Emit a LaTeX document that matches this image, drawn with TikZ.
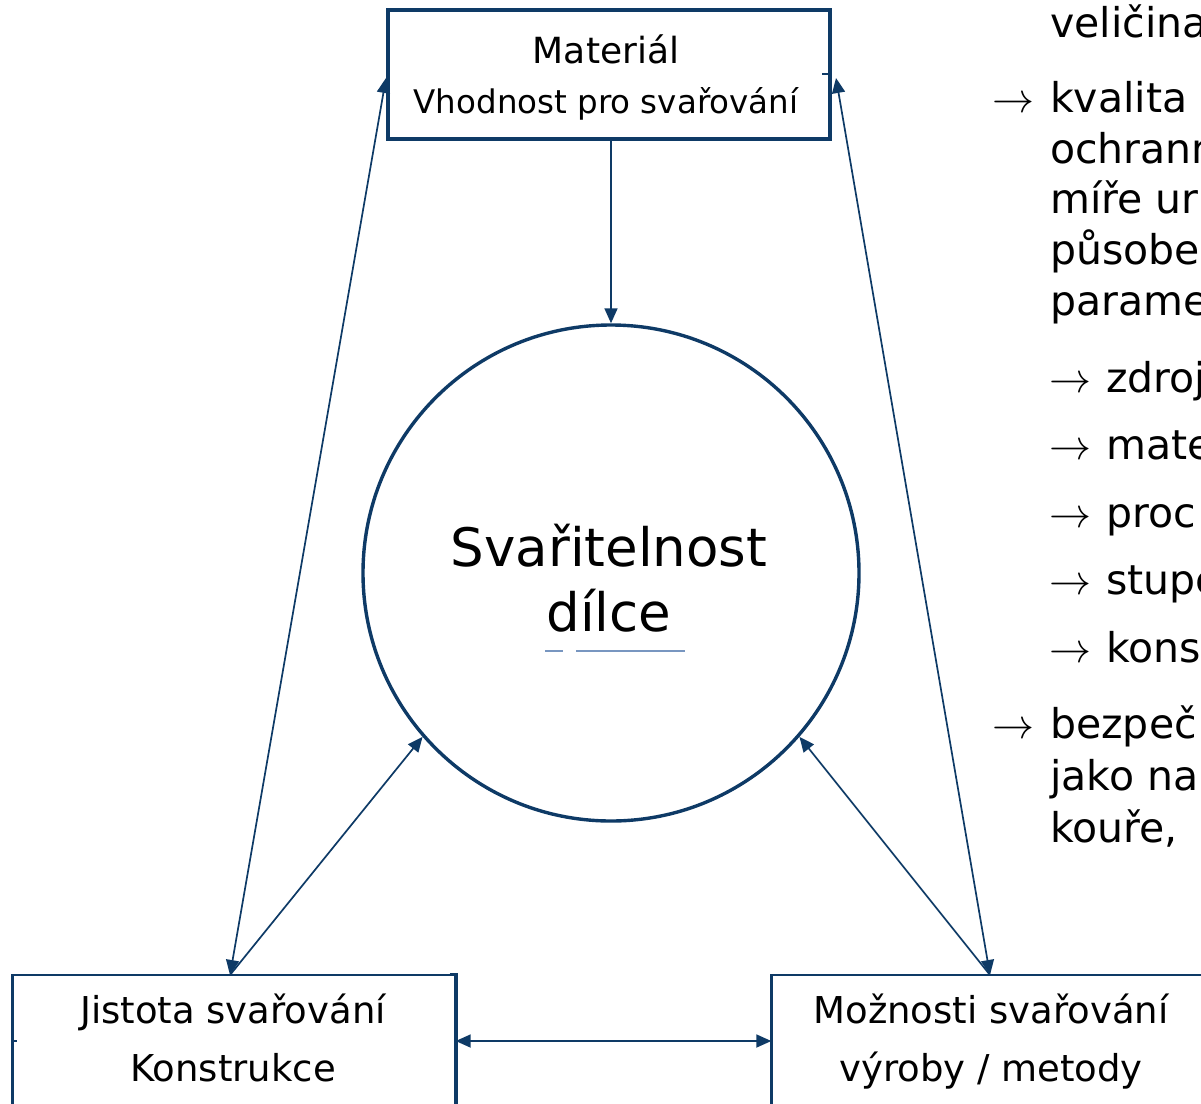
\documentclass[tikz,border=0pt]{standalone}
\usepackage{fontspec}
\setmainfont{DejaVu Sans}
\usepackage{graphicx}
\usetikzlibrary{arrows.meta,calc}
\definecolor{navy}{RGB}{14,58,102}
\definecolor{faintblue}{RGB}{120,150,192}
\newcommand{\arr}{\scalebox{4.2}{\fontsize{10}{12}\selectfont$\rightarrow$}}
\begin{document}
\begin{tikzpicture}[x=1pt,y=-1pt,
  tip/.tip={Triangle[length=15pt,width=13pt]},
  frame/.style={draw=navy,line width=3.4pt,inner sep=0pt},
  thinframe/.style={draw=navy,line width=1.4pt,inner sep=0pt},
  side/.style={draw=navy,line width=3.6pt},
  link/.style={draw=navy,line width=1.7pt},
  lbl/.style={inner sep=0pt,anchor=base,font=\fontsize{37}{44}\selectfont},
  big/.style={inner sep=0pt,anchor=base,font=\fontsize{53}{62}\selectfont},
  bullet/.style={inner sep=0pt,anchor=base west,font=\fontsize{41}{50}\selectfont}]
\useasboundingbox (0,0) rectangle (1201,1103);

% top box: material
\node[frame,minimum width=442pt,minimum height=129pt] (mat) at (609,74.5) {};
\node[lbl,font=\fontsize{36}{43}\selectfont] (matA) at (606,63) {Materiál};
\node[lbl,font=\fontsize{32.5}{40}\selectfont] (matB) at (606,113) {Vhodnost pro svařování};
\draw[navy,line width=1.2pt] (822,74) -- (mat.east |- 0,74);

% central circle
\node[circle,draw=navy,line width=3.4pt,minimum size=496pt,inner sep=0pt] (circ) at (611,573) {};
\node[big] (cA) at (609,566) {Svařitelnost};
\node[big] (cB) at (609,631) {dílce};
\draw[faintblue,line width=2pt] (545,651) -- (563,651);
\draw[faintblue,line width=2pt] (576,651) -- (685,651);

% bottom boxes (cut by the page edge)
\node[thinframe,minimum width=442pt,minimum height=132pt] (jis) at (234,1041) {};
\draw[side] (jis.north west) -- (jis.south west);
\draw[side] ($(jis.north east)+(-6,0)$) -- (jis.north east) -- (jis.south east);
\node[lbl] (jisA) at (233,1023) {Jistota svařování};
\node[lbl] (jisB) at (233,1081) {Konstrukce};

\node[thinframe,minimum width=438pt,minimum height=132pt] (moz) at (991,1041) {};
\draw[side] (moz.north west) -- (moz.south west);
\node[lbl] (mozA) at (991,1023) {Možnosti svařování};
\node[lbl] (mozB) at (991,1081) {výroby / metody};
\draw[navy,line width=1.2pt] (jis.west) -- ++(5,0);

% attachment points
\coordinate (matL) at (386,78);
\coordinate (matR) at (836,78);
\coordinate (jisT) at (230,975);
\coordinate (mozT) at (990,975);

% connectors
\draw[link,-tip] (mat.south -| circ.north) -- (circ.north);
\draw[link,tip-tip] (matL) -- (jisT);
\draw[link,tip-tip] (matR) -- (mozT);
\draw[link,-tip] (jisT) -- (circ.221);
\draw[link,-tip] (mozT) -- (circ.-41);
\draw[link,tip-tip] (jis.east) -- (moz.west);

% text column on the right
\node[bullet] (t0) at (1050,37) {veličina};
\node[bullet] (a1) at (992,112) {\arr};
\node[bullet] (t1) at (1050,112) {kvalita};
\node[bullet] (t2) at (1050,163) {ochrann};
\node[bullet] (t3) at (1050,213) {míře ur};
\node[bullet] (t4) at (1050,264) {působe};
\node[bullet] (t5) at (1050,315) {parame};
\node[bullet] (a6) at (1049,392) {\arr};
\node[bullet] (t6) at (1106,392) {zdroj};
\node[bullet] (a7) at (1049,459) {\arr};
\node[bullet] (t7) at (1106,459) {mate};
\node[bullet] (a8) at (1049,527) {\arr};
\node[bullet] (t8) at (1106,527) {proc};
\node[bullet] (a9) at (1049,594) {\arr};
\node[bullet] (t9) at (1106,594) {stupe};
\node[bullet] (a10) at (1049,662) {\arr};
\node[bullet] (t10) at (1106,662) {kons};
\node[bullet] (a11) at (992,738) {\arr};
\node[bullet] (t11) at (1050,738) {bezpeč};
\node[bullet] (t12) at (1050,790) {jako na};
\node[bullet] (t13) at (1050,842) {kouře,};
\end{tikzpicture}
\end{document}
